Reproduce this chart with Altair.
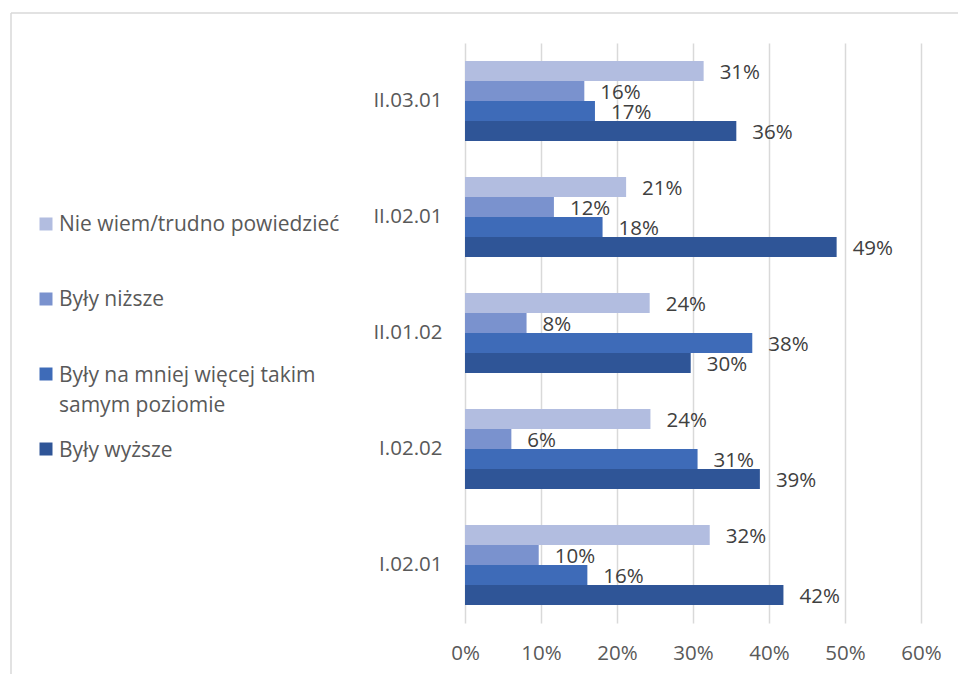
import altair as alt
import pandas as pd

categories = ["II.03.01", "II.02.01", "II.01.02", "I.02.02", "I.02.01"]
series = ["Nie wiem/trudno powiedzieć", "Były niższe",
          "Były na mniej więcej takim samym poziomie", "Były wyższe"]
legend_labels = ["Nie wiem/trudno powiedzieć", "Były niższe",
                 "Były na mniej więcej takim\nsamym poziomie", "Były wyższe"]
colors = ["#B2BDE0", "#7A92CE", "#3E6BB8", "#2F5597"]

nie_wiem = [31.4, 21.2, 24.3, 24.4, 32.2]
nizsze = [15.7, 11.7, 8.1, 6.1, 9.7]
takie_same = [17.1, 18.1, 37.8, 30.6, 16.1]
wyzsze = [35.7, 48.9, 29.7, 38.8, 41.9]
x_ticks = [0, 10, 20, 30, 40, 50, 60]

rows = []
for s, vals in zip(series, [nie_wiem, nizsze, takie_same, wyzsze]):
    for c, v in zip(categories, vals):
        rows.append({"category": c, "series": s, "value": v})
df = pd.DataFrame(rows)
leg_df = pd.DataFrame({"series": series, "label": legend_labels})

FONT = "Open Sans"
color_scale = alt.Scale(domain=series, range=colors)

base = alt.Chart(df).encode(
    y=alt.Y("category:N", sort=categories, title=None,
            scale=alt.Scale(paddingInner=0.31, paddingOuter=0.155),
            axis=alt.Axis(domain=False, ticks=False, grid=False, labelPadding=23,
                          labelFontSize=20.5, labelColor="#595959", labelFont=FONT,
                          minExtent=94, maxExtent=94)),
    yOffset=alt.YOffset("series:N", sort=series,
                        scale=alt.Scale(paddingInner=0, paddingOuter=0)),
    x=alt.X("value:Q", title=None,
            scale=alt.Scale(domain=[0, 60], nice=False),
            axis=alt.Axis(values=x_ticks, labelExpr="datum.value + '%'",
                          domain=False, ticks=False, grid=True, labelFlush=False,
                          gridColor="#D9D9D9", gridWidth=1.5,
                          labelFontSize=20.5, labelColor="#595959", labelFont=FONT,
                          labelPadding=20)),
)

bars = base.mark_bar().encode(
    color=alt.Color("series:N", scale=color_scale, legend=None)
)
labels = base.transform_calculate(
    pct="format(datum.value, '.0f') + '%'"
).mark_text(align="left", baseline="middle", dx=16, dy=2,
            fontSize=20.5, font=FONT, color="#404040").encode(text="pct:N")

main = alt.layer(bars, labels).properties(width=456, height=580)

one = pd.DataFrame({"a": [0]})
border_v = alt.Chart(one).mark_rule(color="#D9D9D9", strokeWidth=1.5).encode(
    x=alt.value(-10), y=alt.value(-30), y2=alt.value(631))
border_h = alt.Chart(one).mark_rule(color="#D9D9D9", strokeWidth=1.5).encode(
    x=alt.value(-10), x2=alt.value(937), y=alt.value(-30))

leg_base = alt.Chart(leg_df).transform_window(
    idx="row_number()"
).encode(
    y=alt.Y("idx:Q", axis=None,
            scale=alt.Scale(domain=[-1.413, 6.413], reverse=True, nice=False, zero=False))
)
leg_sq = leg_base.mark_square(size=169, opacity=1).encode(
    x=alt.value(25),
    color=alt.Color("series:N", scale=color_scale, legend=None))
leg_txt = leg_base.mark_text(align="left", baseline="top", dy=-9.5, lineBreak="\n",
                             lineHeight=30, fontSize=21, font=FONT,
                             color="#595959").encode(
    x=alt.value(38), text="label:N")

legend = alt.layer(border_v, border_h, leg_sq, leg_txt).properties(width=330, height=587)

chart = alt.hconcat(legend, main, spacing=114, bounds="flush").properties(
    padding={"left": 10, "top": 12, "right": 0, "bottom": 0},
    background="white",
).configure_view(stroke=None)

chart.save("out.html", embed_options={"renderer": "svg", "actions": False})
